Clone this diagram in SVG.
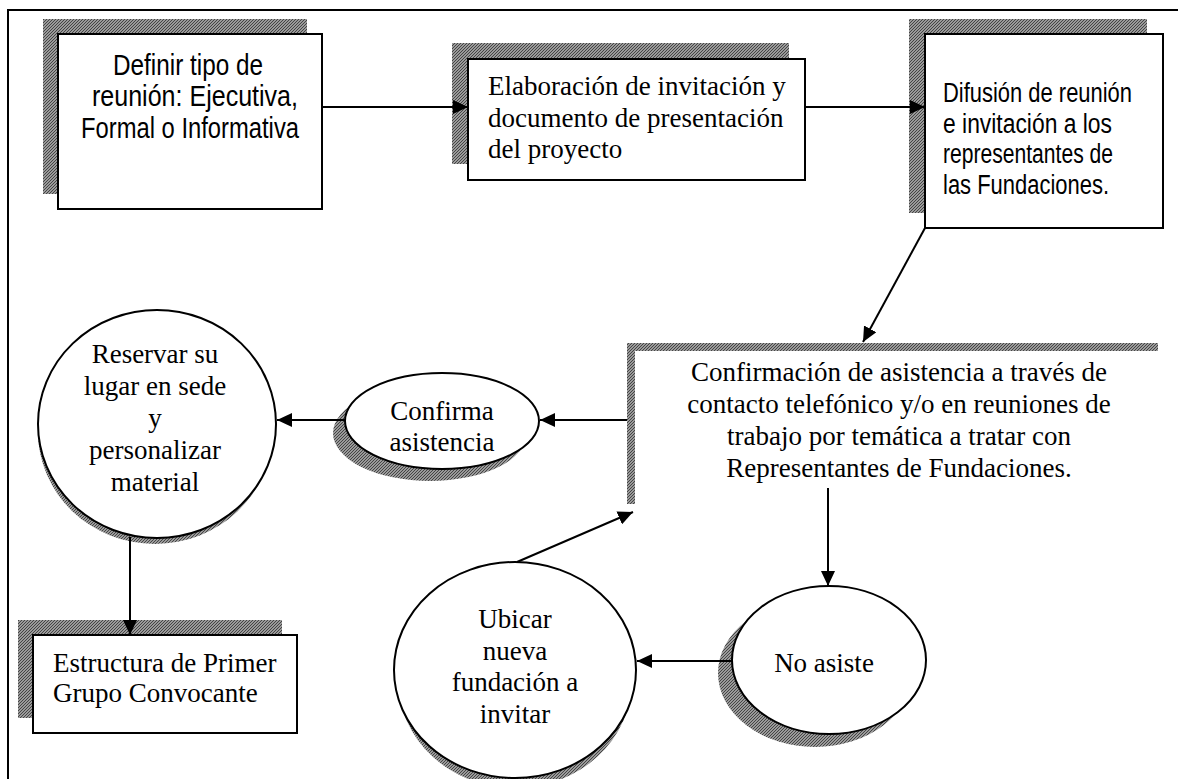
<svg xmlns="http://www.w3.org/2000/svg" width="1178" height="779" viewBox="0 0 1178 779">
<defs>
<marker id="arr" markerUnits="userSpaceOnUse" markerWidth="16" markerHeight="14" refX="15" refY="7" orient="auto">
<path d="M0,0 L15,7 L0,14 z" fill="#000"/>
</marker>
<pattern id="hatch" width="3" height="3" patternUnits="userSpaceOnUse">
<rect width="3" height="3" fill="#9a9a9a"/>
<path d="M0,3 L3,0" stroke="#444" stroke-width="1"/>
</pattern>
</defs>
<style>
.box{fill:#fff;stroke:#000;stroke-width:2}
.sh{fill:url(#hatch);stroke:none}
.ell{fill:#fff;stroke:#000;stroke-width:2}
.serif{font-family:"Liberation Serif","Times New Roman",serif;font-size:27px;fill:#000}
.sans{font-family:"Liberation Sans",Arial,sans-serif;fill:#000}
.con{fill:none;stroke:#000;stroke-width:2}
</style>
<rect width="1178" height="779" fill="#fff"/>
<path d="M8,779 L8,10 L1178,10" fill="none" stroke="#000" stroke-width="2"/>

<g id="n1">
<rect class="sh" x="43" y="19" width="264" height="175"/>
<rect class="box" x="58" y="34" width="264" height="175"/>
<text class="sans" font-size="29" x="113" y="75" textLength="150" lengthAdjust="spacingAndGlyphs">Definir tipo de</text>
<text class="sans" font-size="29" x="92" y="106" textLength="206" lengthAdjust="spacingAndGlyphs">reunión: Ejecutiva,</text>
<text class="sans" font-size="29" x="81" y="138" textLength="218" lengthAdjust="spacingAndGlyphs">Formal o Informativa</text>
</g>

<g id="n2">
<rect class="sh" x="452" y="43" width="337" height="121"/>
<rect class="box" x="468" y="59" width="337" height="121"/>
<text class="serif"><tspan x="488" y="95">Elaboración de invitación y</tspan><tspan x="488" y="127">documento de presentación</tspan><tspan x="488" y="158">del proyecto</tspan></text>
</g>

<g id="n3">
<rect class="sh" x="909" y="19" width="238" height="194"/>
<rect class="box" x="925" y="34" width="238" height="194"/>
<text class="sans" font-size="27" x="943" y="102" textLength="189" lengthAdjust="spacingAndGlyphs">Difusión de reunión</text>
<text class="sans" font-size="27" x="943" y="133" textLength="169" lengthAdjust="spacingAndGlyphs">e invitación a los</text>
<text class="sans" font-size="27" x="943" y="163" textLength="170" lengthAdjust="spacingAndGlyphs">representantes de</text>
<text class="sans" font-size="27" x="943" y="194" textLength="166" lengthAdjust="spacingAndGlyphs">las Fundaciones.</text>
</g>

<g id="n4">
<rect class="sh" x="627" y="343" width="531" height="161"/>
<rect x="635" y="351" width="543" height="153" fill="#fff"/>
<text class="serif" text-anchor="middle"><tspan x="899" y="381">Confirmación de asistencia a través de</tspan><tspan x="899" y="413">contacto telefónico y/o en reuniones de</tspan><tspan x="899" y="445">trabajo por temática a tratar con</tspan><tspan x="899" y="477">Representantes de Fundaciones.</tspan></text>
</g>

<g id="n5">
<ellipse class="sh" cx="430" cy="433" rx="97" ry="48"/>
<ellipse class="ell" cx="442" cy="421" rx="97" ry="48"/>
<text class="serif" text-anchor="middle"><tspan x="442" y="420">Confirma</tspan><tspan x="442" y="451">asistencia</tspan></text>
</g>

<g id="n6">
<ellipse class="sh" cx="155" cy="432" rx="117" ry="112"/>
<ellipse class="ell" cx="157" cy="424" rx="119" ry="114"/>
<text class="serif" text-anchor="middle"><tspan x="155" y="363">Reservar su</tspan><tspan x="155" y="395">lugar en sede</tspan><tspan x="155" y="427">y</tspan><tspan x="155" y="459">personalizar</tspan><tspan x="155" y="491">material</tspan></text>
</g>

<g id="n7">
<rect class="sh" x="18" y="620" width="264" height="98"/>
<rect class="box" x="33" y="635" width="264" height="98"/>
<text class="serif"><tspan x="53" y="672">Estructura de Primer</tspan><tspan x="53" y="702">Grupo Convocante</tspan></text>
</g>

<g id="n8">
<ellipse class="sh" cx="815" cy="673" rx="97" ry="74"/>
<ellipse class="ell" cx="829" cy="660" rx="97" ry="74"/>
<text class="serif" text-anchor="middle"><tspan x="824" y="672">No asiste</tspan></text>
</g>

<g id="n9">
<ellipse class="sh" cx="515" cy="680" rx="117" ry="108"/>
<ellipse class="ell" cx="515" cy="670" rx="121" ry="108"/>
<text class="serif" text-anchor="middle"><tspan x="515" y="628">Ubicar</tspan><tspan x="515" y="660">nueva</tspan><tspan x="515" y="691">fundación a</tspan><tspan x="515" y="723">invitar</tspan></text>
</g>

<g id="connectors">
<line class="con" x1="322" y1="107" x2="468" y2="107" marker-end="url(#arr)"/>
<line class="con" x1="805" y1="107" x2="925" y2="107" marker-end="url(#arr)"/>
<line class="con" x1="925" y1="228" x2="863" y2="342" marker-end="url(#arr)"/>
<line class="con" x1="627" y1="420" x2="540" y2="420" marker-end="url(#arr)"/>
<line class="con" x1="345" y1="420" x2="277" y2="420" marker-end="url(#arr)"/>
<line class="con" x1="130" y1="537" x2="130" y2="635" marker-end="url(#arr)"/>
<line class="con" x1="828" y1="488" x2="828" y2="586" marker-end="url(#arr)"/>
<line class="con" x1="732" y1="661" x2="637" y2="661" marker-end="url(#arr)"/>
<line class="con" x1="517" y1="562" x2="633" y2="512" marker-end="url(#arr)"/>
</g>
</svg>
